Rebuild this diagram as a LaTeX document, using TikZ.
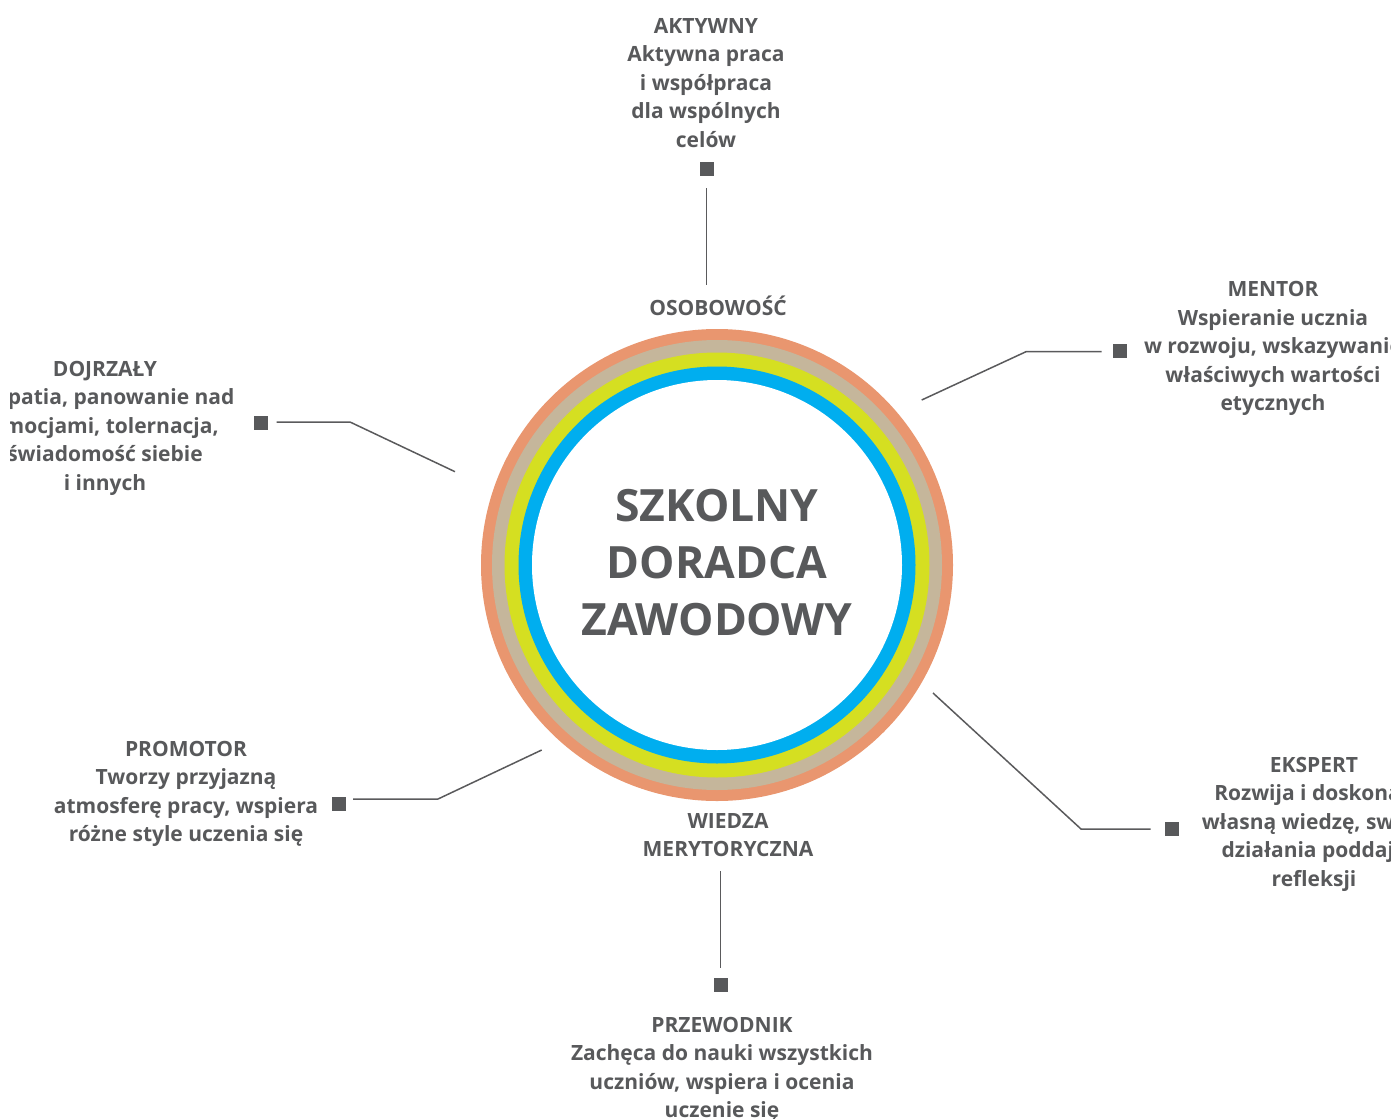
\documentclass[tikz,border=0pt]{standalone}
\usepackage{fontspec}
\setmainfont{Open Sans}
\definecolor{txtgray}{HTML}{58595B}
\definecolor{linegray}{HTML}{5A5A5C}
\definecolor{ringorange}{HTML}{E9966F}
\definecolor{ringtan}{HTML}{C5B69B}
\definecolor{ringgreen}{HTML}{D5DF21}
\definecolor{ringblue}{HTML}{00AEEF}
\begin{document}
\begin{tikzpicture}[x=1pt,y=-1pt,
  t/.style={anchor=base, inner sep=0pt, text=txtgray, font=\fontsize{21}{25}\selectfont\bfseries},
  big/.style={anchor=base, inner sep=0pt, text=txtgray, font=\fontsize{44.5}{50}\selectfont\bfseries},
  sq/.style={fill=txtgray, minimum size=14pt, inner sep=0pt},
  ring/.style={circle, inner sep=0pt, minimum size=#1},
  conn/.style={draw=linegray, line width=1.5pt}]
\useasboundingbox (0,0) rectangle (1393,1119);
% rings
\node[ring=472pt, fill=ringorange] (r1) at (717,565) {};
\node[ring=450pt, fill=ringtan] (r2) at (717,565) {};
\node[ring=425pt, fill=ringgreen] (r3) at (717,565) {};
\node[ring=397pt, fill=ringblue] (r4) at (717,565) {};
\node[ring=370pt, fill=white] (core) at (717,565) {};
% centre text
\node[big] (c1) at (717,521.7) {SZKOLNY};
\node[big] (c2) at (717,578.3) {DORADCA};
\node[big] (c3) at (717,635) {ZAWODOWY};
\begin{scope}
\clip (10,0) rectangle (1390,1119);
% AKTYWNY
\node[t] (a1) at (706,33) {AKTYWNY};
\node[t] (a2) at (706,61.5) {Aktywna praca};
\node[t] (a3) at (706,90) {i współpraca};
\node[t] (a4) at (706,118.5) {dla wspólnych};
\node[t] (a5) at (706,147) {celów};
\node[t] (os) at (718,315) {OSOBOWOŚĆ};
% MENTOR
\node[t] (m1) at (1273,296.5) {MENTOR};
\node[t] (m2) at (1273,325) {Wspieranie ucznia};
\node[t] (m3) at (1273,353.5) {w rozwoju, wskazywanie};
\node[t] (m4) at (1273,382) {właściwych wartości};
\node[t] (m5) at (1273,410.5) {etycznych};
% DOJRZALY
\node[t] (d1) at (105,376) {DOJRZAŁY};
\node[t] (d2) at (105,404.5) {Empatia, panowanie nad};
\node[t] (d3) at (105,433) {emocjami, tolernacja,};
\node[t] (d4) at (105,461.5) {świadomość siebie};
\node[t] (d5) at (105,490) {i innych};
% PROMOTOR
\node[t] (p1) at (186,756) {PROMOTOR};
\node[t] (p2) at (186,784.5) {Tworzy przyjazną};
\node[t] (p3) at (186,813) {atmosferę pracy, wspiera};
\node[t] (p4) at (186,841.5) {różne style uczenia się};
% EKSPERT
\node[t] (e1) at (1314,772) {EKSPERT};
\node[t] (e2) at (1314,800.5) {Rozwija i doskonali};
\node[t] (e3) at (1314,829) {własną wiedzę, swoje};
\node[t] (e4) at (1314,857.5) {działania poddaje};
\node[t] (e5) at (1314,886) {refleksji};
% WIEDZA
\node[t] (w1) at (728,828) {WIEDZA};
\node[t] (w2) at (728,856) {MERYTORYCZNA};
% PRZEWODNIK
\node[t] (g1) at (722,1032.5) {PRZEWODNIK};
\node[t] (g2) at (722,1060.8) {Zachęca do nauki wszystkich};
\node[t] (g3) at (722,1089.1) {uczniów, wspiera i ocenia};
\node[t] (g4) at (722,1117.4) {uczenie się};
\end{scope}
% squares
\node[sq] (sa) at (707,169) {};
\node[sq] (sm) at (1119.5,351) {};
\node[sq] (sd) at (260.5,423) {};
\node[sq] (sp) at (339,804) {};
\node[sq] (se) at (1172,829) {};
\node[sq] (sw) at (721,985) {};
% connector coordinates
\coordinate (a-s) at (706.7,188);  \coordinate (a-e) at (706.7,285);
\coordinate (m-s) at (1101.7,351.7); \coordinate (m-b) at (1026,351.7); \coordinate (m-e) at (921.7,400);
\coordinate (e-s) at (1150.7,829); \coordinate (e-b) at (1081,829); \coordinate (e-e) at (933,693);
\coordinate (p-s) at (353,799); \coordinate (p-b) at (438,799); \coordinate (p-e) at (541.7,750);
\coordinate (d-s) at (276.7,422); \coordinate (d-b) at (350,422); \coordinate (d-e) at (455,471.7);
\coordinate (w-s) at (720.7,871); \coordinate (w-e) at (720.7,968);
\draw[conn] (a-s) -- (a-e);
\draw[conn] (m-s) -- (m-b) -- (m-e);
\draw[conn] (e-s) -- (e-b) -- (e-e);
\draw[conn] (p-s) -- (p-b) -- (p-e);
\draw[conn] (d-s) -- (d-b) -- (d-e);
\draw[conn] (w-s) -- (w-e);
\end{tikzpicture}
\end{document}
